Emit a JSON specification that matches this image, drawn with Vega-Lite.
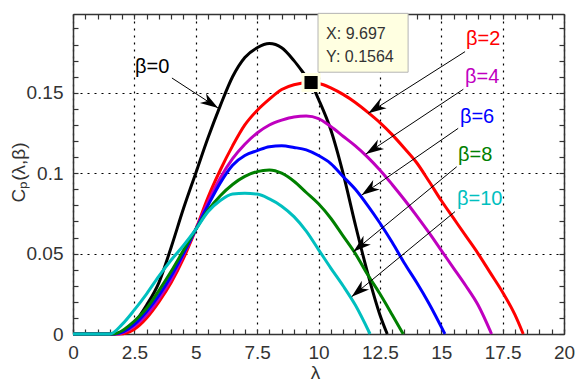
{
  "$schema": "https://vega.github.io/schema/vega-lite/v6.json",
  "width": 491,
  "height": 320,
  "autosize": {"type": "none"},
  "padding": {"left": 73, "top": 14, "right": 12, "bottom": 49},
  "background": "#ffffff",
  "config": {
    "view": {"stroke": null},
    "font": "Liberation Sans",
    "axis": {
      "labelFont": "Liberation Sans", "labelFontSize": 19, "labelColor": "#333333",
      "titleFont": "Liberation Sans", "titleFontSize": 19, "titleFontWeight": "normal", "titleColor": "#333333",
      "domainColor": "#333333", "domainWidth": 1.5, "tickColor": "#333333", "tickWidth": 1.2,
      "gridColor": "#000000", "gridDash": [2, 5], "gridWidth": 1.2
    }
  },
  "datasets": {
    "curves": [
      {"beta":0,"lam":0,"cp":0},{"beta":0,"lam":1.5,"cp":0},{"beta":0,"lam":2,"cp":0.001},{"beta":0,"lam":2.5,"cp":0.007},{"beta":0,"lam":3,"cp":0.018},{"beta":0,"lam":3.5,"cp":0.032},{"beta":0,"lam":4,"cp":0.054},{"beta":0,"lam":4.5,"cp":0.078},{"beta":0,"lam":5,"cp":0.1},{"beta":0,"lam":5.5,"cp":0.122},{"beta":0,"lam":6,"cp":0.142},{"beta":0,"lam":6.5,"cp":0.16},{"beta":0,"lam":7,"cp":0.172},{"beta":0,"lam":7.5,"cp":0.178},{"beta":0,"lam":8,"cp":0.1806},{"beta":0,"lam":8.5,"cp":0.178},{"beta":0,"lam":9,"cp":0.17},{"beta":0,"lam":9.5,"cp":0.16},{"beta":0,"lam":9.7,"cp":0.156},{"beta":0,"lam":10,"cp":0.146},{"beta":0,"lam":10.5,"cp":0.127},{"beta":0,"lam":11,"cp":0.1},{"beta":0,"lam":11.5,"cp":0.068},{"beta":0,"lam":12,"cp":0.038},{"beta":0,"lam":12.5,"cp":0.012},{"beta":0,"lam":12.8,"cp":0},
      {"beta":2,"lam":0,"cp":0},{"beta":2,"lam":1.9,"cp":0},{"beta":2,"lam":2.5,"cp":0.003},{"beta":2,"lam":3,"cp":0.01},{"beta":2,"lam":3.5,"cp":0.02},{"beta":2,"lam":4,"cp":0.032},{"beta":2,"lam":4.5,"cp":0.047},{"beta":2,"lam":5,"cp":0.065},{"beta":2,"lam":5.5,"cp":0.085},{"beta":2,"lam":6,"cp":0.102},{"beta":2,"lam":6.5,"cp":0.117},{"beta":2,"lam":7,"cp":0.13},{"beta":2,"lam":7.5,"cp":0.139},{"beta":2,"lam":8,"cp":0.146},{"beta":2,"lam":8.5,"cp":0.152},{"beta":2,"lam":9,"cp":0.155},{"beta":2,"lam":9.697,"cp":0.1564},{"beta":2,"lam":10.2,"cp":0.155},{"beta":2,"lam":10.5,"cp":0.153},{"beta":2,"lam":11,"cp":0.149},{"beta":2,"lam":11.5,"cp":0.144},{"beta":2,"lam":12,"cp":0.138},{"beta":2,"lam":12.5,"cp":0.1315},{"beta":2,"lam":13,"cp":0.124},{"beta":2,"lam":13.5,"cp":0.1155},{"beta":2,"lam":14,"cp":0.1065},{"beta":2,"lam":14.5,"cp":0.095},{"beta":2,"lam":15,"cp":0.083},{"beta":2,"lam":15.5,"cp":0.072},{"beta":2,"lam":16,"cp":0.061},{"beta":2,"lam":16.5,"cp":0.05},{"beta":2,"lam":17,"cp":0.038},{"beta":2,"lam":17.5,"cp":0.026},{"beta":2,"lam":18,"cp":0.012},{"beta":2,"lam":18.34,"cp":0},
      {"beta":4,"lam":0,"cp":0},{"beta":4,"lam":1.8,"cp":0},{"beta":4,"lam":2.5,"cp":0.005},{"beta":4,"lam":3,"cp":0.012},{"beta":4,"lam":3.5,"cp":0.022},{"beta":4,"lam":4,"cp":0.034},{"beta":4,"lam":4.5,"cp":0.049},{"beta":4,"lam":5,"cp":0.065},{"beta":4,"lam":5.5,"cp":0.082},{"beta":4,"lam":6,"cp":0.097},{"beta":4,"lam":6.5,"cp":0.109},{"beta":4,"lam":7,"cp":0.118},{"beta":4,"lam":7.5,"cp":0.125},{"beta":4,"lam":8,"cp":0.13},{"beta":4,"lam":8.5,"cp":0.133},{"beta":4,"lam":9,"cp":0.135},{"beta":4,"lam":9.5,"cp":0.1355},{"beta":4,"lam":10,"cp":0.134},{"beta":4,"lam":10.5,"cp":0.129},{"beta":4,"lam":11,"cp":0.123},{"beta":4,"lam":11.5,"cp":0.117},{"beta":4,"lam":12,"cp":0.11},{"beta":4,"lam":12.5,"cp":0.102},{"beta":4,"lam":13,"cp":0.093},{"beta":4,"lam":13.5,"cp":0.0835},{"beta":4,"lam":14,"cp":0.0735},{"beta":4,"lam":14.5,"cp":0.063},{"beta":4,"lam":15,"cp":0.052},{"beta":4,"lam":15.5,"cp":0.041},{"beta":4,"lam":16,"cp":0.03},{"beta":4,"lam":16.5,"cp":0.018},{"beta":4,"lam":17.05,"cp":0},
      {"beta":6,"lam":0,"cp":0},{"beta":6,"lam":1.7,"cp":0},{"beta":6,"lam":2.5,"cp":0.006},{"beta":6,"lam":3,"cp":0.014},{"beta":6,"lam":3.5,"cp":0.024},{"beta":6,"lam":4,"cp":0.036},{"beta":6,"lam":4.5,"cp":0.05},{"beta":6,"lam":5,"cp":0.065},{"beta":6,"lam":5.5,"cp":0.08},{"beta":6,"lam":6,"cp":0.094},{"beta":6,"lam":6.5,"cp":0.105},{"beta":6,"lam":7,"cp":0.111},{"beta":6,"lam":7.5,"cp":0.114},{"beta":6,"lam":8,"cp":0.1165},{"beta":6,"lam":8.5,"cp":0.117},{"beta":6,"lam":9,"cp":0.116},{"beta":6,"lam":9.5,"cp":0.1145},{"beta":6,"lam":10,"cp":0.111},{"beta":6,"lam":10.5,"cp":0.106},{"beta":6,"lam":11,"cp":0.098},{"beta":6,"lam":11.5,"cp":0.09},{"beta":6,"lam":12,"cp":0.08},{"beta":6,"lam":12.5,"cp":0.069},{"beta":6,"lam":13,"cp":0.057},{"beta":6,"lam":13.5,"cp":0.044},{"beta":6,"lam":14,"cp":0.032},{"beta":6,"lam":14.5,"cp":0.019},{"beta":6,"lam":15.15,"cp":0},
      {"beta":8,"lam":0,"cp":0},{"beta":8,"lam":1.6,"cp":0},{"beta":8,"lam":2.5,"cp":0.008},{"beta":8,"lam":3,"cp":0.016},{"beta":8,"lam":3.5,"cp":0.027},{"beta":8,"lam":4,"cp":0.039},{"beta":8,"lam":4.5,"cp":0.052},{"beta":8,"lam":5,"cp":0.065},{"beta":8,"lam":5.5,"cp":0.077},{"beta":8,"lam":6,"cp":0.086},{"beta":8,"lam":6.5,"cp":0.093},{"beta":8,"lam":7,"cp":0.098},{"beta":8,"lam":7.5,"cp":0.101},{"beta":8,"lam":8,"cp":0.102},{"beta":8,"lam":8.5,"cp":0.1},{"beta":8,"lam":9,"cp":0.095},{"beta":8,"lam":9.5,"cp":0.088},{"beta":8,"lam":10,"cp":0.081},{"beta":8,"lam":10.5,"cp":0.072},{"beta":8,"lam":11,"cp":0.061},{"beta":8,"lam":11.5,"cp":0.05},{"beta":8,"lam":12,"cp":0.037},{"beta":8,"lam":12.5,"cp":0.025},{"beta":8,"lam":13,"cp":0.012},{"beta":8,"lam":13.45,"cp":0},
      {"beta":10,"lam":0,"cp":0},{"beta":10,"lam":1.5,"cp":0},{"beta":10,"lam":2,"cp":0.006},{"beta":10,"lam":2.5,"cp":0.015},{"beta":10,"lam":3,"cp":0.025},{"beta":10,"lam":3.5,"cp":0.036},{"beta":10,"lam":4,"cp":0.046},{"beta":10,"lam":4.5,"cp":0.055},{"beta":10,"lam":5,"cp":0.065},{"beta":10,"lam":5.5,"cp":0.076},{"beta":10,"lam":6,"cp":0.083},{"beta":10,"lam":6.5,"cp":0.087},{"beta":10,"lam":7,"cp":0.0875},{"beta":10,"lam":7.5,"cp":0.087},{"beta":10,"lam":8,"cp":0.084},{"beta":10,"lam":8.5,"cp":0.0795},{"beta":10,"lam":9,"cp":0.073},{"beta":10,"lam":9.5,"cp":0.064},{"beta":10,"lam":10,"cp":0.0525},{"beta":10,"lam":10.5,"cp":0.041},{"beta":10,"lam":11,"cp":0.03},{"beta":10,"lam":11.5,"cp":0.018},{"beta":10,"lam":12.1,"cp":0}
    ],
    "arrows": [
      {"beta":0,"label":"β=0","lx":2.53,"ly":0.1623,"x1":4.03,"y1":0.1592,"x2":5.91,"y2":0.1405},
      {"beta":2,"label":"β=2","lx":16.01,"ly":0.1797,"x1":15.97,"y1":0.1756,"x2":12.03,"y2":0.1373},
      {"beta":4,"label":"β=4","lx":15.97,"ly":0.1561,"x1":15.9,"y1":0.1522,"x2":11.93,"y2":0.1119},
      {"beta":6,"label":"β=6","lx":15.76,"ly":0.1312,"x1":15.69,"y1":0.1279,"x2":11.76,"y2":0.0864},
      {"beta":8,"label":"β=8","lx":15.68,"ly":0.1076,"x1":15.63,"y1":0.104,"x2":11.42,"y2":0.0512},
      {"beta":10,"label":"β=10","lx":15.64,"ly":0.0802,"x1":15.56,"y1":0.0761,"x2":11.35,"y2":0.0232}
    ],
    "tipbox": [{"x1":9.98,"x2":13.65,"y1":0.1994,"y2":0.1628}],
    "tiptext": [{"tx":10.31,"ty":0.1833,"t":"X: 9.697"},{"tx":10.31,"ty":0.1693,"t":"Y: 0.1564"}],
    "tip": [{"lam":9.697,"cp":0.1564}]
  },
  "resolve": {"axis": {"x": "independent", "y": "independent"}},
  "layer": [
    {
      "data": {"name": "curves"},
      "mark": {"type": "line", "strokeWidth": 3, "interpolate": "monotone"},
      "encoding": {
        "x": {"field": "lam", "type": "quantitative", "scale": {"domain": [0, 20], "nice": false, "zero": false},
          "axis": {"orient": "bottom", "values": [0,0.5,1,1.5,2,2.5,3,3.5,4,4.5,5,5.5,6,6.5,7,7.5,8,8.5,9,9.5,10,10.5,11,11.5,12,12.5,13,13.5,14,14.5,15,15.5,16,16.5,17,17.5,18,18.5,19,19.5,20],
            "labelExpr": "round(datum.value*2)%5==0 ? format(datum.value,'~g') : ''",
            "tickSize": -5, "labelPadding": 14, "labelFlush": false, "labelOverlap": false,
            "grid": true, "gridOpacity": {"condition": {"test": "round(datum.value*2)%5==0", "value": 1}, "value": 0},
            "title": "λ", "titleBaseline": "top", "titleY": 29, "titleX": 242}},
        "y": {"field": "cp", "type": "quantitative", "scale": {"domain": [0, 0.199], "nice": false, "zero": false},
          "axis": {"orient": "left", "values": [0,0.01,0.02,0.03,0.04,0.05,0.06,0.07,0.08,0.09,0.1,0.11,0.12,0.13,0.14,0.15,0.16,0.17,0.18,0.19],
            "labelExpr": "round(datum.value*100)%5==0 ? format(datum.value,'~g') : ''",
            "tickSize": -5, "labelPadding": 15, "labelFlush": false, "labelOverlap": false,
            "grid": true, "gridOpacity": {"condition": {"test": "round(datum.value*100)%5==0", "value": 1}, "value": 0},
            "title": "Cₚ(λ,β)", "titleAngle": 270, "titleX": -49, "titleY": 158, "titleBaseline": "alphabetic", "titleAlign": "center"}},
        "color": {"field": "beta", "type": "nominal", "scale": {"domain": [0,2,4,6,8,10], "range": ["#000000","#FF0000","#BF00BF","#0000FF","#008000","#00BFBF"]}, "legend": null}
      }
    },
    {
      "data": {"name": "arrows"},
      "mark": {"type": "text", "align": "left", "baseline": "alphabetic", "fontSize": 20, "font": "Liberation Sans"},
      "encoding": {
        "x": {"field": "lx", "type": "quantitative", "scale": {"domain": [0, 20], "nice": false, "zero": false},
          "axis": {"orient": "top", "values": [0,0.5,1,1.5,2,2.5,3,3.5,4,4.5,5,5.5,6,6.5,7,7.5,8,8.5,9,9.5,10,10.5,11,11.5,12,12.5,13,13.5,14,14.5,15,15.5,16,16.5,17,17.5,18,18.5,19,19.5,20], "labels": false, "grid": false, "tickSize": -5, "title": null}},
        "y": {"field": "ly", "type": "quantitative", "scale": {"domain": [0, 0.199], "nice": false, "zero": false},
          "axis": {"orient": "right", "values": [0,0.01,0.02,0.03,0.04,0.05,0.06,0.07,0.08,0.09,0.1,0.11,0.12,0.13,0.14,0.15,0.16,0.17,0.18,0.19], "labels": false, "grid": false, "tickSize": -5, "title": null}},
        "color": {"field": "beta", "type": "nominal", "scale": {"domain": [0,2,4,6,8,10], "range": ["#000000","#FF0000","#BF00BF","#0000FF","#008000","#00BFBF"]}, "legend": null},
        "text": {"field": "label"}
      }
    },
    {
      "data": {"name": "arrows"},
      "mark": {"type": "rule", "color": "#000000", "strokeWidth": 1},
      "encoding": {
        "x": {"field": "x1", "type": "quantitative", "scale": {"domain": [0, 20], "nice": false, "zero": false}, "axis": null},
        "y": {"field": "y1", "type": "quantitative", "scale": {"domain": [0, 0.199], "nice": false, "zero": false}, "axis": null},
        "x2": {"field": "x2"},
        "y2": {"field": "y2"}
      }
    },
    {
      "data": {"name": "arrows"},
      "transform": [{"filter": "datum.beta==0"}],
      "mark": {"type": "point", "shape": "M0,0L0.6,1.9L0,1.35L-0.6,1.9Z", "filled": true, "color": "#000000", "opacity": 1, "size": 361, "angle": 123},
      "encoding": {
        "x": {"field": "x2", "type": "quantitative", "scale": {"domain": [0, 20], "nice": false, "zero": false}, "axis": null},
        "y": {"field": "y2", "type": "quantitative", "scale": {"domain": [0, 0.199], "nice": false, "zero": false}, "axis": null}
      }
    },
    {
      "data": {"name": "arrows"},
      "transform": [{"filter": "datum.beta==2 || datum.beta==4"}],
      "mark": {"type": "point", "shape": "M0,0L0.6,1.9L0,1.35L-0.6,1.9Z", "filled": true, "color": "#000000", "opacity": 1, "size": 361, "angle": 237},
      "encoding": {
        "x": {"field": "x2", "type": "quantitative", "scale": {"domain": [0, 20], "nice": false, "zero": false}, "axis": null},
        "y": {"field": "y2", "type": "quantitative", "scale": {"domain": [0, 0.199], "nice": false, "zero": false}, "axis": null}
      }
    },
    {
      "data": {"name": "arrows"},
      "transform": [{"filter": "datum.beta==6"}],
      "mark": {"type": "point", "shape": "M0,0L0.6,1.9L0,1.35L-0.6,1.9Z", "filled": true, "color": "#000000", "opacity": 1, "size": 361, "angle": 235},
      "encoding": {
        "x": {"field": "x2", "type": "quantitative", "scale": {"domain": [0, 20], "nice": false, "zero": false}, "axis": null},
        "y": {"field": "y2", "type": "quantitative", "scale": {"domain": [0, 0.199], "nice": false, "zero": false}, "axis": null}
      }
    },
    {
      "data": {"name": "arrows"},
      "transform": [{"filter": "datum.beta==8 || datum.beta==10"}],
      "mark": {"type": "point", "shape": "M0,0L0.6,1.9L0,1.35L-0.6,1.9Z", "filled": true, "color": "#000000", "opacity": 1, "size": 361, "angle": 230},
      "encoding": {
        "x": {"field": "x2", "type": "quantitative", "scale": {"domain": [0, 20], "nice": false, "zero": false}, "axis": null},
        "y": {"field": "y2", "type": "quantitative", "scale": {"domain": [0, 0.199], "nice": false, "zero": false}, "axis": null}
      }
    },
    {
      "data": {"name": "tipbox"},
      "mark": {"type": "rect", "fill": "#FFFFE1", "stroke": "#B4B4B4", "strokeWidth": 1},
      "encoding": {
        "x": {"field": "x1", "type": "quantitative", "scale": {"domain": [0, 20], "nice": false, "zero": false}, "axis": null},
        "y": {"field": "y1", "type": "quantitative", "scale": {"domain": [0, 0.199], "nice": false, "zero": false}, "axis": null},
        "x2": {"field": "x2"},
        "y2": {"field": "y2"}
      }
    },
    {
      "data": {"name": "tiptext"},
      "mark": {"type": "text", "align": "left", "baseline": "alphabetic", "fontSize": 16, "font": "Liberation Sans", "color": "#333333"},
      "encoding": {
        "x": {"field": "tx", "type": "quantitative", "scale": {"domain": [0, 20], "nice": false, "zero": false}, "axis": null},
        "y": {"field": "ty", "type": "quantitative", "scale": {"domain": [0, 0.199], "nice": false, "zero": false}, "axis": null},
        "text": {"field": "t"}
      }
    },
    {
      "data": {"name": "tip"},
      "mark": {"type": "point", "shape": "square", "filled": true, "fill": "#000000", "stroke": "#FFFFE1", "strokeWidth": 3, "size": 261, "opacity": 1},
      "encoding": {
        "x": {"field": "lam", "type": "quantitative", "scale": {"domain": [0, 20], "nice": false, "zero": false}, "axis": null},
        "y": {"field": "cp", "type": "quantitative", "scale": {"domain": [0, 0.199], "nice": false, "zero": false}, "axis": null}
      }
    }
  ]
}
